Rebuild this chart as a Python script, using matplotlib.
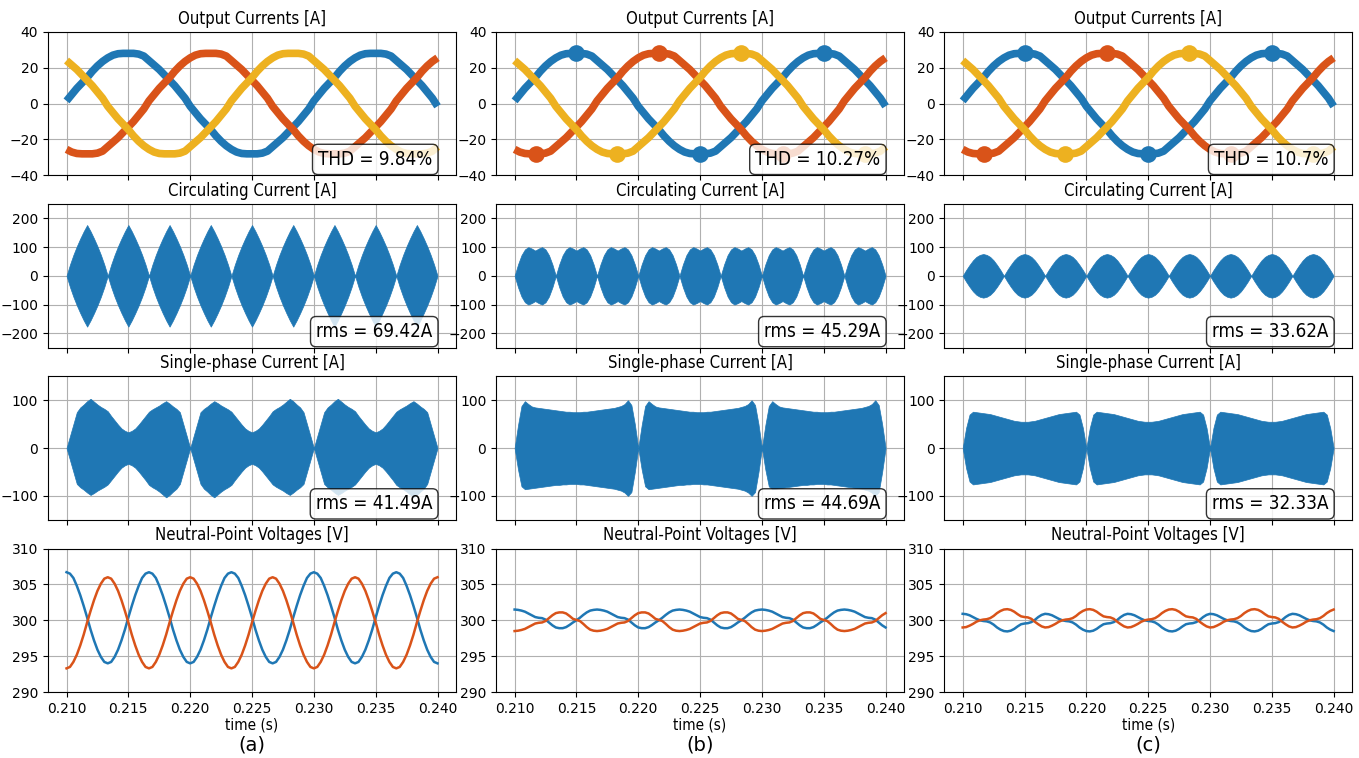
import numpy as np
import matplotlib
matplotlib.use("Agg")
import matplotlib.pyplot as plt
from matplotlib import font_manager as fm

BLUE, ORANGE, YELLOW = "#1f77b4", "#d95319", "#edb120"

# ---- output currents: 50 Hz, sampled every 7.5 deg from 0.21 s to 0.24 s ----
t_out = np.linspace(0.21, 0.24, 73)
i_a = [1.5, 5, 8.5, 11.5, 14.5, 18, 21, 23.5, 25.5, 27, 27.8, 28, 28, 28, 27.6, 26.5, 24, 21.5, 19, 16, 13, 10, 6.5, 3,
       -1.5, -5, -8.5, -11.5, -14.5, -18, -21, -23.5, -25.5, -27, -27.8, -28, -28, -28, -27.6, -26.5, -24, -21.5, -19, -16, -13, -10, -6.5, -3,
       1.5, 5, 8.5, 11.5, 14.5, 18, 21, 23.5, 25.5, 27, 27.8, 28, 28, 28, 27.6, 26.5, 24, 21.5, 19, 16, 13, 10, 6.5, 3,
       -1.5]
i_b = [-25.5, -27, -27.8, -28, -28, -28, -27.6, -26.5, -24, -21.5, -19, -16, -13, -10, -6.5, -3,
       1.5, 5, 8.5, 11.5, 14.5, 18, 21, 23.5, 25.5, 27, 27.8, 28, 28, 28, 27.6, 26.5, 24, 21.5, 19, 16, 13, 10, 6.5, 3,
       -1.5, -5, -8.5, -11.5, -14.5, -18, -21, -23.5, -25.5, -27, -27.8, -28, -28, -28, -27.6, -26.5, -24, -21.5, -19, -16, -13, -10, -6.5, -3,
       1.5, 5, 8.5, 11.5, 14.5, 18, 21, 23.5, 25.5]
i_c = [24, 21.5, 19, 16, 13, 10, 6.5, 3,
       -1.5, -5, -8.5, -11.5, -14.5, -18, -21, -23.5, -25.5, -27, -27.8, -28, -28, -28, -27.6, -26.5, -24, -21.5, -19, -16, -13, -10, -6.5, -3,
       1.5, 5, 8.5, 11.5, 14.5, 18, 21, 23.5, 25.5, 27, 27.8, 28, 28, 28, 27.6, 26.5, 24, 21.5, 19, 16, 13, 10, 6.5, 3,
       -1.5, -5, -8.5, -11.5, -14.5, -18, -21, -23.5, -25.5, -27, -27.8, -28, -28, -28, -27.6, -26.5, -24]

# ripple blobs at the current peaks (cases b and c)
blob_t_a = [0.215, 0.225, 0.235]
blob_v_a = [28, -28, 28]
blob_t_b = [0.2117, 0.2217, 0.2317]
blob_v_b = [-28, 28, -28]
blob_t_c = [0.2183, 0.2283, 0.2383]
blob_v_c = [-28, 28, -28]

thd = ["THD = 9.84%", "THD = 10.27%", "THD = 10.7%"]

# ---- rows 2-4 share one time grid: 1/3600 s steps ----
t = np.linspace(0.21, 0.24, 109)

# circulating current envelope (+/-)
circ_a = [0, 39, 73, 103, 130, 155, 177, 155, 130, 103, 73, 39,
          0, 39, 73, 103, 130, 155, 177, 155, 130, 103, 73, 39,
          0, 39, 73, 103, 130, 155, 177, 155, 130, 103, 73, 39,
          0, 39, 73, 103, 130, 155, 177, 155, 130, 103, 73, 39,
          0, 39, 73, 103, 130, 155, 177, 155, 130, 103, 73, 39,
          0, 39, 73, 103, 130, 155, 177, 155, 130, 103, 73, 39,
          0, 39, 73, 103, 130, 155, 177, 155, 130, 103, 73, 39,
          0, 39, 73, 103, 130, 155, 177, 155, 130, 103, 73, 39,
          0, 39, 73, 103, 130, 155, 177, 155, 130, 103, 73, 39,
          0]
circ_b = [0, 40, 72, 92, 100, 95, 88, 95, 100, 92, 72, 40,
          0, 40, 72, 92, 100, 95, 88, 95, 100, 92, 72, 40,
          0, 40, 72, 92, 100, 95, 88, 95, 100, 92, 72, 40,
          0, 40, 72, 92, 100, 95, 88, 95, 100, 92, 72, 40,
          0, 40, 72, 92, 100, 95, 88, 95, 100, 92, 72, 40,
          0, 40, 72, 92, 100, 95, 88, 95, 100, 92, 72, 40,
          0, 40, 72, 92, 100, 95, 88, 95, 100, 92, 72, 40,
          0, 40, 72, 92, 100, 95, 88, 95, 100, 92, 72, 40,
          0, 40, 72, 92, 100, 95, 88, 95, 100, 92, 72, 40,
          0]
circ_c = [0, 20, 38, 54, 66, 73, 76, 73, 66, 54, 38, 20,
          0, 20, 38, 54, 66, 73, 76, 73, 66, 54, 38, 20,
          0, 20, 38, 54, 66, 73, 76, 73, 66, 54, 38, 20,
          0, 20, 38, 54, 66, 73, 76, 73, 66, 54, 38, 20,
          0, 20, 38, 54, 66, 73, 76, 73, 66, 54, 38, 20,
          0, 20, 38, 54, 66, 73, 76, 73, 66, 54, 38, 20,
          0, 20, 38, 54, 66, 73, 76, 73, 66, 54, 38, 20,
          0, 20, 38, 54, 66, 73, 76, 73, 66, 54, 38, 20,
          0, 20, 38, 54, 66, 73, 76, 73, 66, 54, 38, 20,
          0]
circ_rms = ["rms = 69.42A", "rms = 45.29A", "rms = 33.62A"]

# single-phase current envelopes (upper / lower)
sp_up_a = [0, 25, 50, 75, 85, 91, 98, 103, 97, 91, 86, 82, 77, 67, 58, 49, 41, 36, 33, 36, 41, 49, 58, 67, 76, 81, 85, 89, 94, 98, 93, 87, 82, 75, 50, 25, 0,
           25, 50, 75, 82, 87, 93, 98, 94, 89, 85, 81, 76, 67, 58, 49, 41, 36, 33, 36, 41, 49, 58, 67, 77, 82, 86, 91, 97, 103, 98, 91, 85, 75, 50, 25, 0,
           25, 50, 75, 85, 91, 98, 103, 97, 91, 86, 82, 77, 67, 58, 49, 41, 36, 33, 36, 41, 49, 58, 67, 76, 81, 85, 89, 94, 98, 93, 87, 82, 75, 50, 25, 0]
sp_lo_a = [0, -25, -50, -75, -82, -87, -93, -98, -94, -89, -85, -81, -76, -67, -58, -49, -41, -36, -33, -36, -41, -49, -58, -67, -77, -82, -86, -91, -97, -103, -98, -91, -85, -75, -50, -25, 0,
           -25, -50, -75, -85, -91, -98, -103, -97, -91, -86, -82, -77, -67, -58, -49, -41, -36, -33, -36, -41, -49, -58, -67, -76, -81, -85, -89, -94, -98, -93, -87, -82, -75, -50, -25, 0,
           -25, -50, -75, -82, -87, -93, -98, -94, -89, -85, -81, -76, -67, -58, -49, -41, -36, -33, -36, -41, -49, -58, -67, -77, -82, -86, -91, -97, -103, -98, -91, -85, -75, -50, -25, 0]
sp_up_b = [0, 48, 88, 98, 92, 87, 85, 84, 83, 82, 81, 80, 79, 78, 77, 76, 76, 75, 75, 75, 76, 76, 77, 78, 79, 80, 81, 82, 83, 84, 86, 88, 92, 100, 90, 50, 0,
           48, 88, 98, 92, 87, 85, 84, 83, 82, 81, 80, 79, 78, 77, 76, 76, 75, 75, 75, 76, 76, 77, 78, 79, 80, 81, 82, 83, 84, 86, 88, 92, 100, 90, 50, 0,
           48, 88, 98, 92, 87, 85, 84, 83, 82, 81, 80, 79, 78, 77, 76, 76, 75, 75, 75, 76, 76, 77, 78, 79, 80, 81, 82, 83, 84, 86, 88, 92, 100, 90, 50, 0]
sp_lo_b = [0, -45, -80, -86, -85, -84, -83, -82, -81, -80, -79, -78, -77, -77, -76, -76, -75, -75, -75, -76, -76, -77, -78, -79, -80, -81, -82, -83, -84, -85, -87, -89, -93, -100, -92, -50, 0,
           -45, -80, -86, -85, -84, -83, -82, -81, -80, -79, -78, -77, -77, -76, -76, -75, -75, -75, -76, -76, -77, -78, -79, -80, -81, -82, -83, -84, -85, -87, -89, -93, -100, -92, -50, 0,
           -45, -80, -86, -85, -84, -83, -82, -81, -80, -79, -78, -77, -77, -76, -76, -75, -75, -75, -76, -76, -77, -78, -79, -80, -81, -82, -83, -84, -85, -87, -89, -93, -100, -92, -50, 0]
sp_up_c = [0, 42, 70, 76, 75, 74, 73, 72, 71, 69, 67, 65, 63, 61, 59, 57, 56, 55, 55, 55, 56, 57, 59, 61, 63, 65, 67, 69, 71, 72, 73, 74, 75, 76, 70, 42, 0,
           42, 70, 76, 75, 74, 73, 72, 71, 69, 67, 65, 63, 61, 59, 57, 56, 55, 55, 55, 56, 57, 59, 61, 63, 65, 67, 69, 71, 72, 73, 74, 75, 76, 70, 42, 0,
           42, 70, 76, 75, 74, 73, 72, 71, 69, 67, 65, 63, 61, 59, 57, 56, 55, 55, 55, 56, 57, 59, 61, 63, 65, 67, 69, 71, 72, 73, 74, 75, 76, 70, 42, 0]
sp_lo_c = [0, -42, -70, -76, -75, -74, -73, -72, -71, -69, -67, -65, -63, -61, -59, -57, -56, -55, -55, -55, -56, -57, -59, -61, -63, -65, -67, -69, -71, -72, -73, -74, -75, -76, -70, -42, 0,
           -42, -70, -76, -75, -74, -73, -72, -71, -69, -67, -65, -63, -61, -59, -57, -56, -55, -55, -55, -56, -57, -59, -61, -63, -65, -67, -69, -71, -72, -73, -74, -75, -76, -70, -42, 0,
           -42, -70, -76, -75, -74, -73, -72, -71, -69, -67, -65, -63, -61, -59, -57, -56, -55, -55, -55, -56, -57, -59, -61, -63, -65, -67, -69, -71, -72, -73, -74, -75, -76, -70, -42, 0]
sp_rms = ["rms = 41.49A", "rms = 44.69A", "rms = 32.33A"]

# neutral-point voltages (upper / lower capacitor)
np1_a = [306.7, 306.5, 305.9, 304.8, 303.5, 302.0, 300.4, 298.7, 297.2, 295.9, 294.9, 294.2, 294.0, 294.2, 294.9, 295.9, 297.2, 298.7, 300.4, 302.0, 303.5, 304.8, 305.9, 306.5,
         306.7, 306.5, 305.9, 304.8, 303.5, 302.0, 300.4, 298.7, 297.2, 295.9, 294.9, 294.2, 294.0, 294.2, 294.9, 295.9, 297.2, 298.7, 300.4, 302.0, 303.5, 304.8, 305.9, 306.5,
         306.7, 306.5, 305.9, 304.8, 303.5, 302.0, 300.4, 298.7, 297.2, 295.9, 294.9, 294.2, 294.0, 294.2, 294.9, 295.9, 297.2, 298.7, 300.4, 302.0, 303.5, 304.8, 305.9, 306.5,
         306.7, 306.5, 305.9, 304.8, 303.5, 302.0, 300.4, 298.7, 297.2, 295.9, 294.9, 294.2, 294.0, 294.2, 294.9, 295.9, 297.2, 298.7, 300.4, 302.0, 303.5, 304.8, 305.9, 306.5,
         306.7, 306.5, 305.9, 304.8, 303.5, 302.0, 300.4, 298.7, 297.2, 295.9, 294.9, 294.2, 294.0]
np2_a = [293.3, 293.5, 294.2, 295.2, 296.5, 298.0, 299.7, 301.3, 302.8, 304.1, 305.1, 305.8, 306.0, 305.8, 305.1, 304.1, 302.8, 301.3, 299.7, 298.0, 296.5, 295.2, 294.2, 293.5,
         293.3, 293.5, 294.2, 295.2, 296.5, 298.0, 299.7, 301.3, 302.8, 304.1, 305.1, 305.8, 306.0, 305.8, 305.1, 304.1, 302.8, 301.3, 299.7, 298.0, 296.5, 295.2, 294.2, 293.5,
         293.3, 293.5, 294.2, 295.2, 296.5, 298.0, 299.7, 301.3, 302.8, 304.1, 305.1, 305.8, 306.0, 305.8, 305.1, 304.1, 302.8, 301.3, 299.7, 298.0, 296.5, 295.2, 294.2, 293.5,
         293.3, 293.5, 294.2, 295.2, 296.5, 298.0, 299.7, 301.3, 302.8, 304.1, 305.1, 305.8, 306.0, 305.8, 305.1, 304.1, 302.8, 301.3, 299.7, 298.0, 296.5, 295.2, 294.2, 293.5,
         293.3, 293.5, 294.2, 295.2, 296.5, 298.0, 299.7, 301.3, 302.8, 304.1, 305.1, 305.8, 306.0]
np1_b = [301.5, 301.45, 301.35, 301.2, 300.95, 300.7, 300.45, 300.35, 300.3, 300.1, 299.7, 299.3, 299.0, 298.9, 298.9, 299.05, 299.35, 299.7, 300.0, 300.35, 300.75, 301.1, 301.35, 301.45,
         301.5, 301.45, 301.35, 301.2, 300.95, 300.7, 300.45, 300.35, 300.3, 300.1, 299.7, 299.3, 299.0, 298.9, 298.9, 299.05, 299.35, 299.7, 300.0, 300.35, 300.75, 301.1, 301.35, 301.45,
         301.5, 301.45, 301.35, 301.2, 300.95, 300.7, 300.45, 300.35, 300.3, 300.1, 299.7, 299.3, 299.0, 298.9, 298.9, 299.05, 299.35, 299.7, 300.0, 300.35, 300.75, 301.1, 301.35, 301.45,
         301.5, 301.45, 301.35, 301.2, 300.95, 300.7, 300.45, 300.35, 300.3, 300.1, 299.7, 299.3, 299.0, 298.9, 298.9, 299.05, 299.35, 299.7, 300.0, 300.35, 300.75, 301.1, 301.35, 301.45,
         301.5, 301.45, 301.35, 301.2, 300.95, 300.7, 300.45, 300.35, 300.3, 300.1, 299.7, 299.3, 299.0]
np2_b = [298.5, 298.55, 298.65, 298.8, 299.05, 299.3, 299.55, 299.65, 299.7, 299.9, 300.3, 300.7, 301.0, 301.1, 301.1, 300.95, 300.6, 300.2, 300.05, 299.9, 299.5, 299.05, 298.7, 298.55,
         298.5, 298.55, 298.65, 298.8, 299.05, 299.3, 299.55, 299.65, 299.7, 299.9, 300.3, 300.7, 301.0, 301.1, 301.1, 300.95, 300.6, 300.2, 300.05, 299.9, 299.5, 299.05, 298.7, 298.55,
         298.5, 298.55, 298.65, 298.8, 299.05, 299.3, 299.55, 299.65, 299.7, 299.9, 300.3, 300.7, 301.0, 301.1, 301.1, 300.95, 300.6, 300.2, 300.05, 299.9, 299.5, 299.05, 298.7, 298.55,
         298.5, 298.55, 298.65, 298.8, 299.05, 299.3, 299.55, 299.65, 299.7, 299.9, 300.3, 300.7, 301.0, 301.1, 301.1, 300.95, 300.6, 300.2, 300.05, 299.9, 299.5, 299.05, 298.7, 298.55,
         298.5, 298.55, 298.65, 298.8, 299.05, 299.3, 299.55, 299.65, 299.7, 299.9, 300.3, 300.7, 301.0]
np1_c = [300.9, 300.85, 300.7, 300.45, 300.2, 300.0, 299.9, 299.85, 299.7, 299.4, 299.0, 298.7, 298.5, 298.45, 298.55, 298.8, 299.15, 299.45, 299.55, 299.6, 299.75, 300.05, 300.45, 300.75,
         300.9, 300.85, 300.7, 300.45, 300.2, 300.0, 299.9, 299.85, 299.7, 299.4, 299.0, 298.7, 298.5, 298.45, 298.55, 298.8, 299.15, 299.45, 299.55, 299.6, 299.75, 300.05, 300.45, 300.75,
         300.9, 300.85, 300.7, 300.45, 300.2, 300.0, 299.9, 299.85, 299.7, 299.4, 299.0, 298.7, 298.5, 298.45, 298.55, 298.8, 299.15, 299.45, 299.55, 299.6, 299.75, 300.05, 300.45, 300.75,
         300.9, 300.85, 300.7, 300.45, 300.2, 300.0, 299.9, 299.85, 299.7, 299.4, 299.0, 298.7, 298.5, 298.45, 298.55, 298.8, 299.15, 299.45, 299.55, 299.6, 299.75, 300.05, 300.45, 300.75,
         300.9, 300.85, 300.7, 300.45, 300.2, 300.0, 299.9, 299.85, 299.7, 299.4, 299.0, 298.7, 298.5]
np2_c = [299.0, 299.05, 299.25, 299.5, 299.8, 300.0, 300.1, 300.15, 300.3, 300.6, 301.0, 301.3, 301.5, 301.55, 301.45, 301.2, 300.85, 300.55, 300.45, 300.4, 300.2, 299.8, 299.45, 299.15,
         299.0, 299.05, 299.25, 299.5, 299.8, 300.0, 300.1, 300.15, 300.3, 300.6, 301.0, 301.3, 301.5, 301.55, 301.45, 301.2, 300.85, 300.55, 300.45, 300.4, 300.2, 299.8, 299.45, 299.15,
         299.0, 299.05, 299.25, 299.5, 299.8, 300.0, 300.1, 300.15, 300.3, 300.6, 301.0, 301.3, 301.5, 301.55, 301.45, 301.2, 300.85, 300.55, 300.45, 300.4, 300.2, 299.8, 299.45, 299.15,
         299.0, 299.05, 299.25, 299.5, 299.8, 300.0, 300.1, 300.15, 300.3, 300.6, 301.0, 301.3, 301.5, 301.55, 301.45, 301.2, 300.85, 300.55, 300.45, 300.4, 300.2, 299.8, 299.45, 299.15,
         299.0, 299.05, 299.25, 299.5, 299.8, 300.0, 300.1, 300.15, 300.3, 300.6, 301.0, 301.3, 301.5]

circ = [circ_a, circ_b, circ_c]
sp_up = [sp_up_a, sp_up_b, sp_up_c]
sp_lo = [sp_lo_a, sp_lo_b, sp_lo_c]
np1 = [np1_a, np1_b, np1_c]
np2 = [np2_a, np2_b, np2_c]
cases = ["(a)", "(b)", "(c)"]

# titles/labels in the reference are narrow: use the condensed DejaVu face if it exists
cond_file = fm.findfont(fm.FontProperties(family="DejaVu Sans", stretch="condensed"))
if "Condensed" in cond_file:
    title_kw = dict(fontsize=12, fontstretch="condensed")
    xlab_kw = dict(fontsize=11, fontstretch="condensed")
    note_kw = dict(fontsize=13.5, fontstretch="condensed")
else:
    title_kw = dict(fontsize=11)
    xlab_kw = dict(fontsize=10.5)
    note_kw = dict(fontsize=13.5)

box = dict(boxstyle="round,pad=0.3", facecolor="white", alpha=0.8)


def note(ax, s):
    ax.text(0.942, 0.045, s, transform=ax.transAxes, ha="right", va="bottom",
            bbox=box, zorder=5, **note_kw)


fig, axes = plt.subplots(4, 3, figsize=(13.59, 7.58), dpi=100, sharex=True)
plt.subplots_adjust(left=0.0353, right=0.995, bottom=0.087, top=0.958,
                    wspace=0.098, hspace=0.2)

for j in range(3):
    # output currents
    ax = axes[0, j]
    for y, c in [(i_a, BLUE), (i_b, ORANGE), (i_c, YELLOW)]:
        ax.plot(t_out, y, color=c, lw=5.5, solid_capstyle="butt")
    if j > 0:
        for bt, bv, c in [(blob_t_a, blob_v_a, BLUE), (blob_t_b, blob_v_b, ORANGE),
                          (blob_t_c, blob_v_c, YELLOW)]:
            ax.plot(bt, bv, "o", color=c, ms=12, mec="none")
    ax.set_ylim(-40, 40)
    ax.set_yticks([-40, -20, 0, 20, 40])
    ax.set_title("Output Currents [A]", **title_kw)
    note(ax, thd[j])

    # circulating current
    ax = axes[1, j]
    env = np.array(circ[j])
    ax.fill_between(t, -env, env, color=BLUE, lw=0.5, zorder=2)
    ax.set_ylim(-250, 250)
    ax.set_yticks([-200, -100, 0, 100, 200])
    ax.set_title("Circulating Current [A]", **title_kw)
    note(ax, circ_rms[j])

    # single-phase current
    ax = axes[2, j]
    ax.fill_between(t, sp_lo[j], sp_up[j], color=BLUE, lw=0.5, zorder=2)
    ax.set_ylim(-150, 150)
    ax.set_yticks([-100, 0, 100])
    ax.set_title("Single-phase Current [A]", **title_kw)
    note(ax, sp_rms[j])

    # neutral-point voltages
    ax = axes[3, j]
    ax.plot(t, np1[j], color=BLUE, lw=1.8)
    ax.plot(t, np2[j], color=ORANGE, lw=1.8)
    ax.set_ylim(290, 310)
    ax.set_yticks([290, 295, 300, 305, 310])
    ax.set_title("Neutral-Point Voltages [V]", **title_kw)
    ax.set_xlabel("time (s)", labelpad=1, **xlab_kw)
    ax.set_xticks(np.arange(0.210, 0.2401, 0.005))
    ax.set_xticklabels([f"{v:.3f}" for v in np.arange(0.210, 0.2401, 0.005)])

    pos = ax.get_position()
    fig.text((pos.x0 + pos.x1) / 2, 1 - 745 / 758, cases[j], ha="center",
             va="center", fontsize=14)

for ax in axes.flat:
    ax.grid(True)
    ax.set_axisbelow(True)

fig.savefig("out.png", dpi=100)
